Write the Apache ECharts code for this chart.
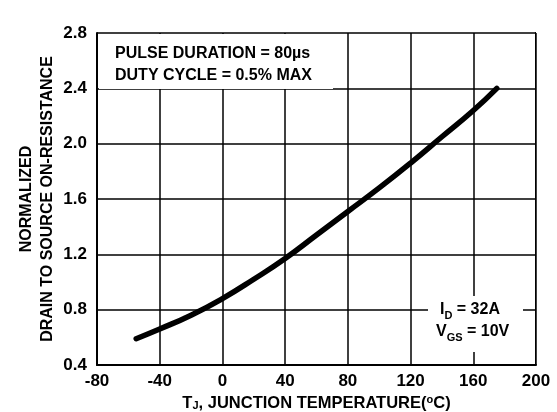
<!DOCTYPE html>
<html>
<head>
    <meta charset="utf-8">
    <title>Normalized on-resistance vs junction temperature</title>
    <script src="https://cdn.jsdelivr.net/npm/echarts@6/dist/echarts.min.js"></script>
    <style>
        html, body { margin: 0; padding: 0; background: #fff; }
        #main { width: 557px; height: 412px; }
    </style>
</head>
<body>
<div id="main"></div>
<script type="text/javascript">
    // junction temperature (degC) and normalized Rds(on)
    var tempC = [-55, -40, -20, 0, 20, 40, 60, 80, 100, 120, 140, 160, 175];
    var rdsNorm = [0.59, 0.66, 0.76, 0.88, 1.02, 1.17, 1.34, 1.51, 1.68, 1.86, 2.05, 2.24, 2.40];
    var xTicks = [-80, -40, 0, 40, 80, 120, 160, 200];
    var yTicks = [0.4, 0.8, 1.2, 1.6, 2.0, 2.4, 2.8];

    var pts = [];
    for (let i = 0; i < tempC.length; i++) {
        pts.push([tempC[i], rdsNorm[i]]);
    }

    var font = 'Liberation Sans, Arial, sans-serif';
    var myChart = echarts.init(document.getElementById('main'));

    var option = {
        animation: false,
        backgroundColor: '#fff',
        grid: { left: 97, right: 21, top: 33, bottom: 47, outerBoundsMode: 'none' },
        xAxis: {
            type: 'value',
            min: xTicks[0], max: xTicks[xTicks.length - 1], interval: 40,
            axisLine: { onZero: false, lineStyle: { color: '#000', width: 2 } },
            axisTick: { show: false },
            splitLine: { lineStyle: { color: '#000', width: 1.5 } },
            axisLabel: { color: '#000', fontFamily: font, fontWeight: 'bold', fontSize: 17, margin: 8 },
            name: '{n|T}{sub|J}{n|, JUNCTION TEMPERATURE(}{sup|o}{n|C)}',
            nameLocation: 'middle',
            nameGap: 22,
            nameTextStyle: {
                rich: {
                    n: { fontFamily: font, fontWeight: 'bold', fontSize: 16.5, color: '#000' },
                    sub: { fontFamily: font, fontWeight: 'bold', fontSize: 11, color: '#000', verticalAlign: 'bottom', padding: [6, 0, 0, 0] },
                    sup: { fontFamily: font, fontWeight: 'bold', fontSize: 11, color: '#000', verticalAlign: 'top', padding: [0, 0, 6, 0] }
                }
            }
        },
        yAxis: {
            type: 'value',
            min: yTicks[0], max: yTicks[yTicks.length - 1], interval: 0.4,
            axisLine: { show: true, onZero: false, lineStyle: { color: '#000', width: 2 } },
            axisTick: { show: false },
            splitLine: { lineStyle: { color: '#000', width: 1.5 } },
            axisLabel: {
                color: '#000', fontFamily: font, fontWeight: 'bold', fontSize: 17, margin: 10,
                formatter: function (v) { return v.toFixed(1); }
            },
            name: 'NORMALIZED\nDRAIN TO SOURCE ON-RESISTANCE',
            nameLocation: 'middle',
            nameGap: 39,
            nameMoveOverlap: false,
            nameTextStyle: { fontFamily: font, fontWeight: 'bold', fontSize: 16, color: '#000', lineHeight: 21 }
        },
        graphic: [
            // right edge of the frame
            { type: 'rect', shape: { x: 535, y: 32, width: 1, height: 333 }, style: { fill: '#000' }, z: 5 },
            // test condition boxes
            { type: 'rect', shape: { x: 99, y: 34, width: 234, height: 55 }, style: { fill: '#fff' }, z: 10 },
            {
                type: 'text', left: 115, top: 43, z: 11,
                style: {
                    text: 'PULSE DURATION = 80\u00b5s\nDUTY CYCLE = 0.5% MAX',
                    font: 'bold 16px ' + font, fill: '#000', lineHeight: 22
                }
            },
            { type: 'rect', shape: { x: 428, y: 296, width: 95, height: 56 }, style: { fill: '#fff' }, z: 10 },
            {
                type: 'text', left: 436, top: 302, z: 11,
                style: {
                    text: '{a|}{n|I}{sub|D}{n| = 32A}\n{n|V}{sub|GS}{n| = 10V}',
                    rich: {
                        a: { width: 4 },
                        n: { font: 'bold 16px ' + font, fill: '#000', lineHeight: 22 },
                        sub: { font: 'bold 11px ' + font, fill: '#000', verticalAlign: 'bottom', padding: [7, 0, 0, 0] }
                    },
                    align: 'left'
                }
            }
        ],
        series: [{
            type: 'line',
            data: pts,
            smooth: true,
            symbol: 'none',
            lineStyle: { color: '#000', width: 5.5, cap: 'round' },
            z: 20
        }]
    };

    myChart.setOption(option);
</script>
</body>
</html>
